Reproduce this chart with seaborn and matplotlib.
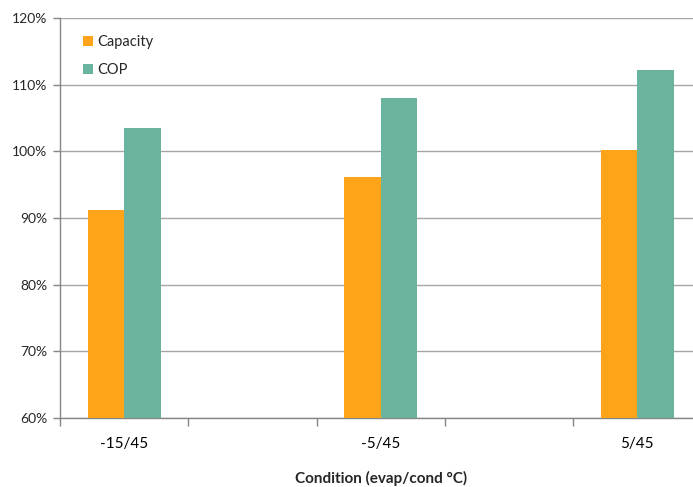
import pandas as pd
import seaborn as sns
import matplotlib.pyplot as plt
from matplotlib.ticker import FuncFormatter

# chart values
conditions = ["-15/45", "-5/45", "5/45"]
capacity = [91.2, 96.1, 100.2]
cop = [103.5, 108.0, 112.2]
# Excel axis had blank slots between the conditions
slots = ["-15/45", "gap1", "-5/45", "gap2", "5/45"]

df = pd.DataFrame({
    "Condition": conditions * 2,
    "Value": capacity + cop,
    "Series": ["Capacity"] * 3 + ["COP"] * 3,
})

sns.set_style("white")
plt.rcParams['font.family'] = ['Lato', 'DejaVu Sans']

fig = plt.figure(figsize=(6.93, 4.87), dpi=100)
ax = fig.add_axes([60 / 693, 69 / 487, 641.5 / 693, 400 / 487])

sns.barplot(data=df, x="Condition", y="Value", hue="Series", order=slots,
            palette=["#FFA319", "#6AB39E"], width=0.57, gap=0,
            saturation=1, ax=ax, zorder=3)
for p in ax.patches:
    p.set_edgecolor("none")

ax.set_ylim(60, 120)
ax.set_xlim(-0.5, 4.5)
ax.set_yticks(range(60, 121, 10))
ax.yaxis.set_major_formatter(FuncFormatter(lambda v, _: f"{v:.0f}%"))
ax.yaxis.grid(True, color="#A6A6A6", linewidth=1, zorder=0)
ax.set_axisbelow(True)

ax.set_xticks([0, 2, 4])
ax.set_xticklabels(conditions)
ax.set_xticks([-0.5, 0.5, 1.5, 2.5, 3.5, 4.5], minor=True)
ax.tick_params(axis="x", which="major", length=0, pad=14, labelsize=11, colors="#000000")
ax.tick_params(axis="x", which="minor", length=6, color="#868686", width=1, bottom=True)
ax.tick_params(axis="y", length=5, color="#868686", width=1, left=True, labelsize=10, pad=4)

for s in ["top", "right"]:
    ax.spines[s].set_visible(False)
for s in ["left", "bottom"]:
    ax.spines[s].set_color("#868686")
    ax.spines[s].set_linewidth(1)

ax.set_ylabel("")
ax.set_xlabel("Condition (evap/cond °C)", fontsize=11, fontweight="bold", labelpad=14)

ax.legend(loc="upper left", bbox_to_anchor=(0.015, 0.99), frameon=False,
          handlelength=0.7, handleheight=0.7, handletextpad=0.3,
          labelspacing=0.95, fontsize=10.5)

fig.savefig("out.png", dpi=100)
